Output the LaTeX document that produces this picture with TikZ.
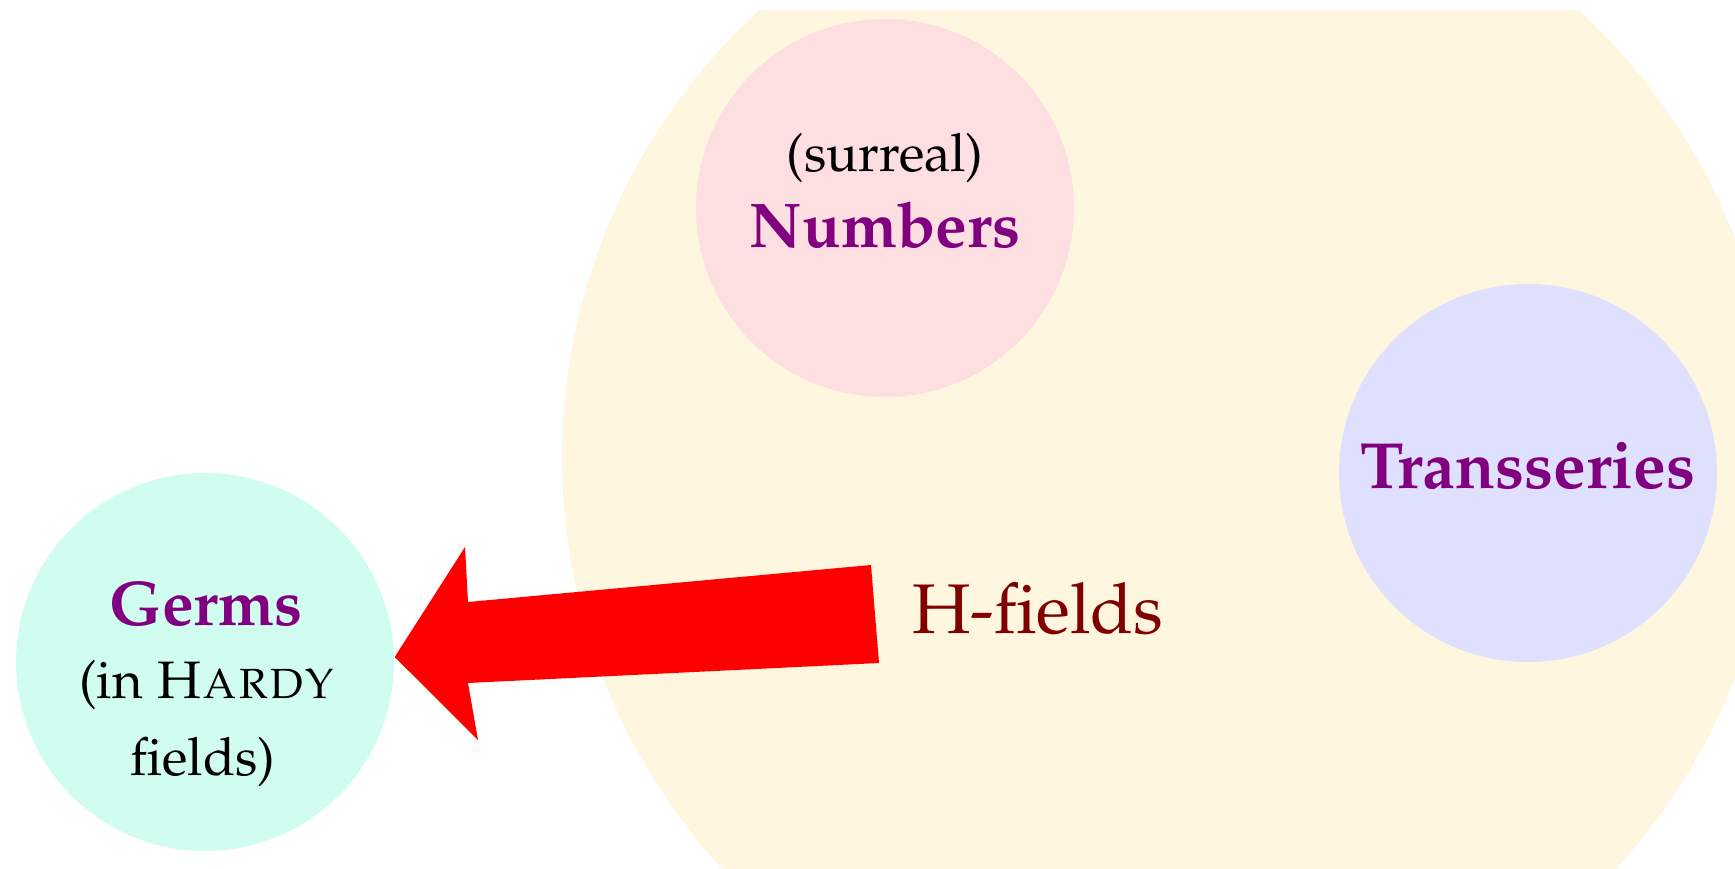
\documentclass[tikz,border=0pt]{standalone}
\usepackage[T1]{fontenc}
\usepackage{mathpazo}
\usepackage{xcolor}
\usepackage{tikz}
\definecolor{fieldbg}{HTML}{FEF6DF}
\definecolor{numbg}{HTML}{FDDEE1}
\definecolor{transbg}{HTML}{DFDFFE}
\definecolor{germbg}{HTML}{D0FDEF}
\definecolor{namecol}{HTML}{800080}
\definecolor{hcol}{HTML}{800000}

\begin{document}
\begin{tikzpicture}[
  world/.style={circle, inner sep=0pt, minimum size=3.78cm},
  setname/.style={anchor=base, text=namecol, font=\fontsize{18}{21}\selectfont\bfseries},
  remark/.style={anchor=base, font=\fontsize{15}{21}\selectfont},
  bigarrow/.style={fill=red}
]
  \useasboundingbox (0,0) rectangle (17.35,8.68);
  % the H-fields disc, cut off at the top
  \begin{scope}
    \clip (0,0) rectangle (17.35,8.57);
    \fill[fieldbg] (11.69,4.10) circle (6.07);
  \end{scope}

  \node[world, fill=numbg] (numbers) at (8.85,6.60) {};
  \node[world, fill=transbg] (trans) at (15.28,3.95) {};
  \node[world, fill=germbg] (germs) at (2.05,2.06) {};

  \node[remark] (surreal) at (8.85,6.97) {(surreal)};
  \node[setname] (numlabel) at (8.85,6.21) {Numbers};
  \node[setname, font=\fontsize{18.6}{21}\selectfont\bfseries] (translabel) at (15.28,3.80) {Transseries};
  \node[setname] (germlabel) at (2.06,2.43) {Germs};
  \node[remark] (hardy) at (2.07,1.70) {(in \textsc{Hardy}};
  \node[remark] (hardyb) at (2.03,0.93) {fields)};
  \node[anchor=base, text=hcol, font=\fontsize{20}{24}\selectfont] (hfields) at (10.38,2.35) {H-fields};

  % fat arrow from the H-fields to the germs
  \fill[bigarrow] (8.71,3.03) -- (8.79,2.05) -- (4.68,1.85) -- (4.78,1.28)
    -- ([yshift=0.05cm]germs.east) -- (4.65,3.21) -- (4.68,2.66) -- cycle;
\end{tikzpicture}
\end{document}
